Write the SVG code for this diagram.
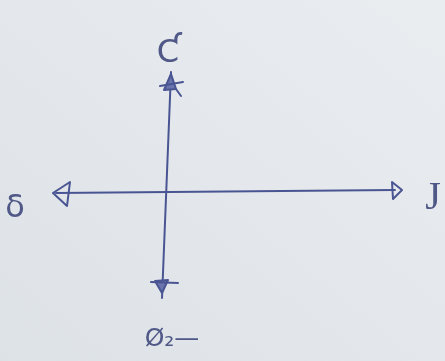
<svg xmlns="http://www.w3.org/2000/svg" width="445" height="361" viewBox="0 0 445 361">
  <defs>
    <linearGradient id="bg" x1="0" y1="1" x2="1" y2="0">
      <stop offset="0" stop-color="#dde2e7"/>
      <stop offset="1" stop-color="#eaedf0"/>
    </linearGradient>
    <filter id="soft" x="-5%" y="-5%" width="110%" height="110%">
      <feGaussianBlur stdDeviation="0.6"/>
    </filter>
    <style>
      .ax { stroke: #4a5592; stroke-width: 2; fill: none; stroke-linecap: round; stroke-linejoin: round; }
      .hd { stroke: #4a5592; stroke-width: 2; fill: none; stroke-linejoin: round; }
      .hf { stroke: #4a5592; stroke-width: 2; fill: #6a74ae; stroke-linejoin: round; }
      .lb { font-family: "DejaVu Sans", "Liberation Sans", sans-serif; fill: #4f5886; }
      .lbs { font-family: "Liberation Serif", serif; fill: #4f5886; }
    </style>
  </defs>
  <rect width="445" height="361" fill="url(#bg)"/>

  <g id="connectors" filter="url(#soft)">
    <path class="ax" d="M56 193 L395 190"/>
    <path class="ax" d="M171 72 L162 298"/>
    <path class="hd" d="M53 193 L70 182 L67 206 Z"/>
    <path class="hd" d="M402 190 L392 182 L393 199 Z"/>
    <path class="hf" d="M171 74 L164 90 L176 89 Z"/>
    <path class="ax" d="M160 86 L183 82"/>
    <path class="ax" d="M176 89 L181 96"/>
    <path class="hf" d="M162 293 L155 281 L168 280 Z"/>
    <path class="ax" d="M151 282 L178 283"/>
  </g>

  <g id="label-top" filter="url(#soft)"><text class="lb" x="168" y="62" font-size="32" text-anchor="middle">Ƈ</text></g>
  <g id="label-left" filter="url(#soft)"><text class="lb" x="15" y="217" font-size="32" text-anchor="middle">δ</text></g>
  <g id="label-right" filter="url(#soft)"><text class="lbs" x="433" y="209" font-size="40" text-anchor="middle">J</text></g>
  <g id="label-bottom" filter="url(#soft)"><text class="lb" x="172" y="346" font-size="25" text-anchor="middle">Ø₂—</text></g>
</svg>
